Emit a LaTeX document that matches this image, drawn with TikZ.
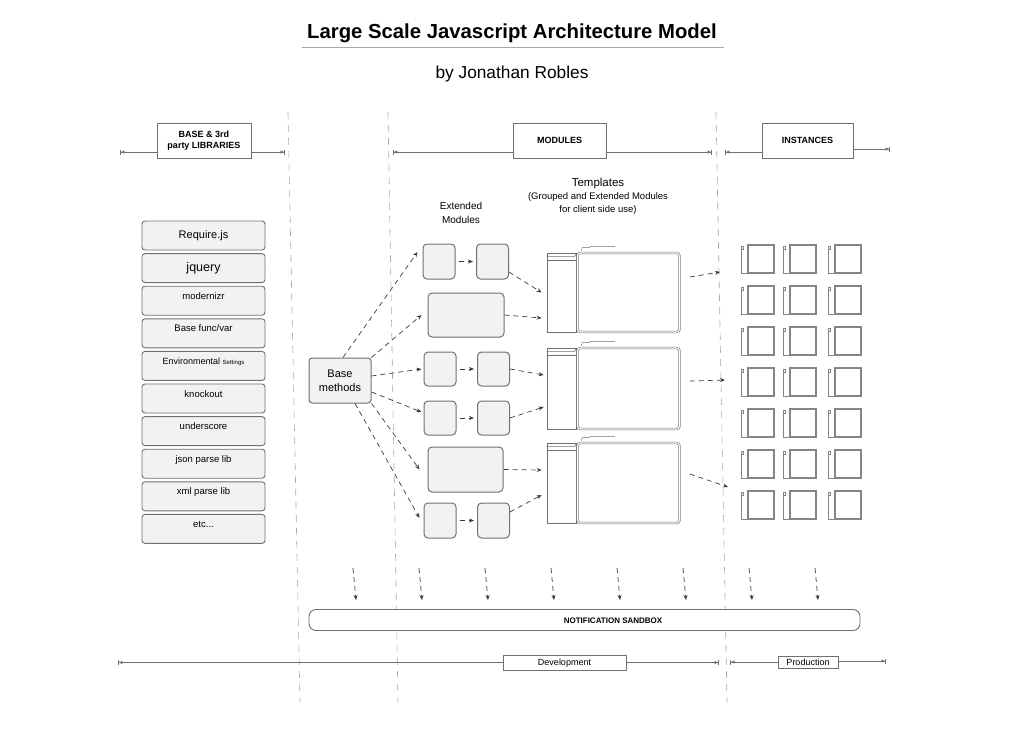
\documentclass[tikz,border=0pt]{standalone}
\usepackage{fontspec}
\setmainfont{Liberation Sans}
\usetikzlibrary{arrows.meta,calc}
\definecolor{boxline}{HTML}{707070}
\definecolor{instline}{HTML}{858585}
\definecolor{boxfill}{HTML}{F2F2F2}
\definecolor{guide}{HTML}{A8A8A8}
\definecolor{arr}{HTML}{3A3A3A}
\begin{document}
\begin{tikzpicture}[x=1pt,y=-1pt,
  libbox/.style={draw=boxline,fill=boxfill,rounded corners=3pt,line width=0.9pt,
    minimum width=123pt,minimum height=29pt,inner sep=0pt,
    font=\fontsize{9.5}{11}\selectfont,text height=6pt,text depth=9pt},
  libbig/.style={draw=boxline,fill=boxfill,rounded corners=3pt,line width=0.9pt,
    minimum width=123pt,minimum height=29pt,inner sep=0pt},
  modbox/.style={draw=boxline,fill=boxfill,rounded corners=4pt,line width=1pt,inner sep=0pt},
  hdr/.style={draw=boxline,fill=white,line width=0.8pt,inner sep=0pt,align=center,
    font=\fontsize{9}{11}\selectfont\bfseries},
  dimbox/.style={draw=boxline,fill=white,line width=0.8pt,inner sep=0pt,
    font=\fontsize{9}{11}\selectfont,text height=6.5pt,text depth=0pt},
  dimline/.style={draw=boxline,line width=0.9pt},
  dimstart/.style={dimline,{Bar[width=5pt]Latex[length=3.5pt,width=3.5pt]}-},
  dimend/.style={dimline,-{Latex[length=3.5pt,width=3.5pt]Bar[width=5pt]}},
  darr/.style={draw=arr,line width=0.7pt,dash pattern=on 5pt off 4pt,
    -{Stealth[length=5pt,width=4pt]}},
  guideline/.style={draw=guide,line width=0.6pt,dash pattern=on 7pt off 6pt},
  tplside/.style={draw=boxline,line width=0.7pt,minimum width=29pt,inner sep=0pt},
  tplmain/.style={draw=boxline,double=white,double distance=1.2pt,line width=0.6pt,
    rounded corners=3pt,minimum width=102pt,inner sep=0pt},
  inst/.style={draw=instline,line width=0.6pt},
  instmain/.style={draw=instline,line width=1.3pt},
]
\useasboundingbox (0,0) rectangle (1024,749);

% title
\node[font=\fontsize{20.3}{24}\selectfont\bfseries] (title) at (512,33.5) {Large Scale Javascript Architecture Model};
\draw[draw=guide,line width=0.9pt] (302,47) -- (724,47);
\node[font=\fontsize{17.3}{20}\selectfont] (author) at (512,74) {by Jonathan Robles};

% guide lines
\draw[guideline] (288,112) -- (300,702);
\draw[guideline] (388,112) -- (398,702);
\draw[guideline] (716,112) -- (727,702);

% header boxes
\node[hdr,minimum width=94pt,minimum height=35pt] (LIB) at (204,140.5) {BASE \& 3rd\\party LIBRARIES};
\node[hdr,minimum width=93pt,minimum height=35pt] (MOD) at (559.5,140.5) {MODULES};
\node[hdr,minimum width=91pt,minimum height=35pt] (INS) at (807.5,140.5) {INSTANCES};
\coordinate (libL) at (120,152);
\coordinate (libR) at (285,152);
\coordinate (modL) at (393,152);
\coordinate (modR) at (712,152);
\coordinate (insL) at (725,152);
\coordinate (insR) at (890,149);
\draw[dimstart] (libL) -- (libL -| LIB.west);
\draw[dimend] (libR -| LIB.east) -- (libR);
\draw[dimstart] (modL) -- (modL -| MOD.west);
\draw[dimend] (modR -| MOD.east) -- (modR);
\draw[dimstart] (insL) -- (insL -| INS.west);
\draw[dimend] (insR -| INS.east) -- (insR);

% library boxes
\node[libbig,font=\fontsize{11}{13}\selectfont] (L1) at (203.5,235.5) {Require.js};
\node[libbig,font=\fontsize{12.5}{14}\selectfont] (L2) at (203.5,268.1) {jquery};
\node[libbox] (L3) at (203.5,300.7) {modernizr};
\node[libbox] (L4) at (203.5,333.3) {Base func/var};
\node[libbox] (L5) at (203.5,365.9) {\fontsize{9}{11}\selectfont Environmental {\fontsize{6}{7}\selectfont Settings}};
\node[libbox] (L6) at (203.5,398.5) {knockout};
\node[libbox] (L7) at (203.5,431.1) {underscore};
\node[libbox] (L8) at (203.5,463.7) {json parse lib};
\node[libbox] (L9) at (203.5,496.3) {xml parse lib};
\node[libbox] (L10) at (203.5,528.9) {etc...};

% base methods
\node[modbox,rounded corners=3pt,minimum width=62pt,minimum height=45pt,align=center,
  font=\fontsize{11}{14}\selectfont] (BM) at (340,380.5) {Base\\methods};

% labels
\node[align=center,font=\fontsize{10}{14}\selectfont] (extlbl) at (461,212.5) {Extended\\Modules};
\node[align=center,font=\fontsize{9.5}{13}\selectfont] (tpllbl) at (598,196.5)
  {{\fontsize{11.5}{13}\selectfont Templates}\\(Grouped and Extended Modules\\for client side use)};

% extended modules
\node[modbox,minimum width=32pt,minimum height=35pt] (A1) at (439,261.5) {};
\node[modbox,minimum width=32pt,minimum height=35pt] (A2) at (492.5,261.5) {};
\node[modbox,minimum width=76pt,minimum height=44pt] (B) at (466,315) {};
\node[modbox,minimum width=32pt,minimum height=34pt] (C1) at (440,369) {};
\node[modbox,minimum width=32pt,minimum height=34pt] (C2) at (493.5,369) {};
\node[modbox,minimum width=32pt,minimum height=34pt] (D1) at (440,418) {};
\node[modbox,minimum width=32pt,minimum height=34pt] (D2) at (493.5,418) {};
\node[modbox,minimum width=75pt,minimum height=45pt] (E) at (465.5,469.5) {};
\node[modbox,minimum width=32pt,minimum height=35pt] (F1) at (440,520.5) {};
\node[modbox,minimum width=32pt,minimum height=35pt] (F2) at (493.5,520.5) {};

\foreach \p/\q in {A1/A2,C1/C2,D1/D2,F1/F2}
  \draw[darr,shorten <=3pt,shorten >=3pt] (\p.east) -- (\q.west);

% base methods arrows
\draw[darr] ([xshift=3pt]BM.north) -- ([xshift=-5pt,yshift=9.5pt]A1.west);
\draw[darr] (BM.north east) -- ([xshift=-6pt]B.west);
\draw[darr] ([yshift=4.5pt]BM.east) -- ([xshift=-2pt]C1.west);
\draw[darr] ([yshift=-11.5pt]BM.east) -- ([xshift=-2pt,yshift=6pt]D1.west);
\draw[darr] (BM.south east) -- ([xshift=-8pt]E.west);
\draw[darr] ([xshift=15pt]BM.south) -- ([xshift=-4pt,yshift=2.5pt]F1.west);

% templates
\foreach \n/\cy/\h in {1/292.5/79,2/388.5/81,3/483/80} {
  \node[tplside,minimum height=\h pt] (TL\n) at (561.5,\cy) {};
  \node[tplmain,minimum height=\h pt] (TM\n) at (628.5,\cy) {};
  \draw[boxline,line width=0.6pt] ([yshift=-4pt]TL\n.north west) -- ([xshift=-2pt,yshift=-4pt]TL\n.north east)
     -- ([yshift=-1pt]TL\n.north east);
  \draw[boxline,line width=0.6pt] ([yshift=-8pt]TL\n.north west) -- ([yshift=-8pt]TL\n.north east);
  \draw[boxline,line width=0.5pt] ([xshift=4pt,yshift=2pt]TM\n.north west) -- ([xshift=5pt,yshift=5pt]TM\n.north west)
     -- ([xshift=12pt,yshift=5pt]TM\n.north west) -- ([xshift=13pt,yshift=6pt]TM\n.north west)
     -- ([xshift=38pt,yshift=6pt]TM\n.north west);
}

% modules -> templates
\draw[darr] ([yshift=-10.5pt]A2.east) -- ([xshift=-5pt]TL1.west);
\draw[darr] (B.east) -- ([xshift=-5pt,yshift=-25.5pt]TL1.west);
\draw[darr] (C2.east) -- ([xshift=-3pt,yshift=13.5pt]TL2.west);
\draw[darr] (D2.east) -- ([xshift=-3pt,yshift=-18.5pt]TL2.west);
\draw[darr] (E.east) -- ([xshift=-5pt,yshift=13pt]TL3.west);
\draw[darr] ([yshift=8.5pt]F2.east) -- ([xshift=-5pt,yshift=-12pt]TL3.west);

% templates -> instances
\coordinate (i1) at (720,272);
\coordinate (i2) at (725,380);
\coordinate (i3) at (728,487);
\draw[darr] ([xshift=10pt,yshift=15.5pt]TM1.east) -- (i1);
\draw[darr] ([xshift=10pt,yshift=7.5pt]TM2.east) -- (i2);
\draw[darr] ([xshift=10pt,yshift=9pt]TM3.east) -- (i3);

% instances
\foreach \cx in {748,790,835} {
  \foreach \r in {0,...,6} {
    \pgfmathsetmacro\ty{245+41*\r}
    \draw[inst] (\cx-7,\ty+1) -- (\cx-7,\ty+28) -- (\cx,\ty+28);
    \draw[inst] (\cx-7,\ty+1) -- (\cx-5,\ty+1) -- (\cx-5,\ty+4) -- (\cx-7,\ty+4);
    \draw[instmain] (\cx,\ty) rectangle (\cx+26,\ty+28);
  }
}

% notification arrows
\foreach \x [count=\i] in {356,422,488,554,620,686,752,818} {
  \coordinate (na\i) at (\x-3,568);
  \coordinate (nb\i) at (\x,600);
  \draw[darr] (na\i) -- (nb\i);
}

% notification sandbox
\node[draw=boxline,fill=white,line width=0.9pt,rounded corners=7pt,minimum width=551pt,
  minimum height=21pt,inner sep=0pt] (NS) at (584.5,620) {};
\node[font=\fontsize{8}{10}\selectfont\bfseries] (NSt) at (613,621) {NOTIFICATION SANDBOX};

% development / production
\node[dimbox,minimum width=123pt,minimum height=15pt] (DEV) at (564.5,662.5) {Development};
\node[dimbox,minimum width=60pt,minimum height=12pt] (PROD) at (808,662) {Production};
\coordinate (devL) at (118,662.5);
\coordinate (devR) at (719,662.5);
\coordinate (prodL) at (730,662);
\coordinate (prodR) at (886,661);
\draw[dimstart] (devL) -- (devL -| DEV.west);
\draw[dimend] (devR -| DEV.east) -- (devR);
\draw[dimstart] (prodL) -- (prodL -| PROD.west);
\draw[dimend] (prodR -| PROD.east) -- (prodR);
\end{tikzpicture}
\end{document}
